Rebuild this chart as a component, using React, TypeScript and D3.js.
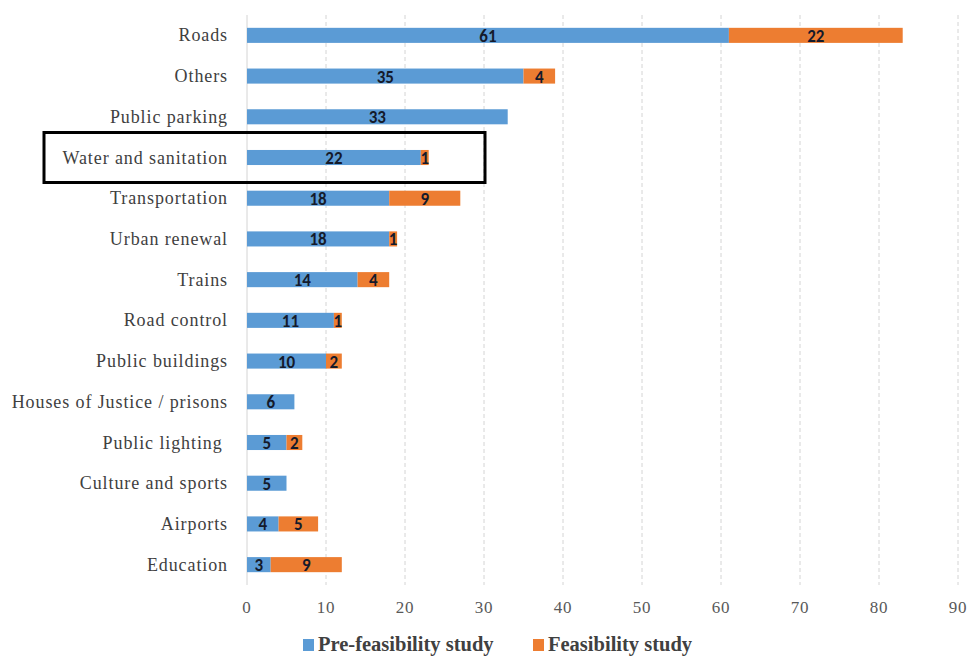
import React from "react";
import * as d3 from "d3";

const categories = [
  "Roads",
  "Others",
  "Public parking",
  "Water and sanitation",
  "Transportation",
  "Urban renewal",
  "Trains",
  "Road control",
  "Public buildings",
  "Houses of Justice / prisons",
  "Public lighting ",
  "Culture and sports",
  "Airports",
  "Education",
];

const preFeasibility = [61, 35, 33, 22, 18, 18, 14, 11, 10, 6, 5, 5, 4, 3];
const feasibility = [22, 4, 0, 1, 9, 1, 4, 1, 2, 0, 2, 0, 5, 9];

const xTicks = [0, 10, 20, 30, 40, 50, 60, 70, 80, 90];

const seriesNames = ["Pre-feasibility study", "Feasibility study"];
const seriesColors = ["#5B9BD5", "#ED7D31"];

const highlighted = "Water and sanitation";

const W = 969;
const H = 656;
const plotLeft = 247;
const plotRight = 958;
const plotTop = 15;
const plotBottom = 585;

const serif = '"Liberation Serif", Tinos, "Times New Roman", serif';
const sans = 'Carlito, Calibri, "Liberation Sans", sans-serif';

export default function App() {
  const x = d3.scaleLinear().domain([0, 90]).range([plotLeft, plotRight]);
  const inner = 0.63;
  const y = d3
    .scaleBand()
    .domain(categories)
    .range([plotTop, plotBottom])
    .paddingInner(inner)
    .paddingOuter(inner / 2);

  const rows = categories.map((c, i) => ({
    c,
    segs: [
      { s: 0, x0: 0, v: preFeasibility[i] },
      { s: 1, x0: preFeasibility[i], v: feasibility[i] },
    ],
  }));

  const bw = y.bandwidth();
  const hy = (y(highlighted) as number) + bw / 2;

  const legend = [
    { name: seriesNames[0], color: seriesColors[0], x: 303 },
    { name: seriesNames[1], color: seriesColors[1], x: 533 },
  ];

  return (
    <svg width={W} height={H} style={{ display: "block", position: "absolute", left: 0, top: 0 }}>
      <rect width={W} height={H} fill="#fff" />
      {/* vertical dashed gridlines */}
      {xTicks.map((t) => (
        <line
          key={t}
          x1={x(t)}
          x2={x(t)}
          y1={plotTop}
          y2={plotBottom}
          stroke="#d4d4d4"
          strokeWidth={1}
          strokeDasharray={t === 0 ? undefined : "4 3"}
        />
      ))}
      {/* tick labels */}
      {xTicks.map((t) => (
        <text
          key={"t" + t}
          x={x(t)}
          y={613}
          textAnchor="middle"
          style={{ fontFamily: serif, fontSize: 17, letterSpacing: 0.8 }}
          fill="#595959"
        >
          {t}
        </text>
      ))}
      {/* stacked bars */}
      {rows.map((r) =>
        r.segs.map((sg) =>
          sg.v > 0 ? (
            <g key={r.c + sg.s}>
              <rect
                x={x(sg.x0)}
                y={y(r.c)}
                width={x(sg.x0 + sg.v) - x(sg.x0)}
                height={bw}
                fill={seriesColors[sg.s]}
              />
              <text
                x={(x(sg.x0) + x(sg.x0 + sg.v)) / 2}
                y={(y(r.c) as number) + bw / 2 + 6.5}
                textAnchor="middle"
                style={{ fontFamily: sans, fontWeight: 700, fontSize: 17 }}
                fill="#141a2b"
              >
                {sg.v}
              </text>
            </g>
          ) : null
        )
      )}
      {/* category labels */}
      {categories.map((c) => (
        <text
          key={"c" + c}
          x={228}
          y={(y(c) as number) + bw / 2 + 6}
          textAnchor="end"
          fill="#404040"
          style={{ fontFamily: serif, fontSize: 18, letterSpacing: 0.9, whiteSpace: "pre" }}
        >
          {c}
        </text>
      ))}
      {/* highlight box */}
      <rect
        x={44}
        y={hy - 25}
        width={441}
        height={50}
        fill="none"
        stroke="#000"
        strokeWidth={3}
      />
      {/* legend */}
      {legend.map((l) => (
        <g key={l.name}>
          <rect x={l.x} y={639} width={11} height={12} fill={l.color} />
          <text
            x={l.x + 15}
            y={651}
            fill="#404040"
            style={{ fontFamily: serif, fontWeight: 700, fontSize: 20.5 }}
          >
            {l.name}
          </text>
        </g>
      ))}
    </svg>
  );
}
